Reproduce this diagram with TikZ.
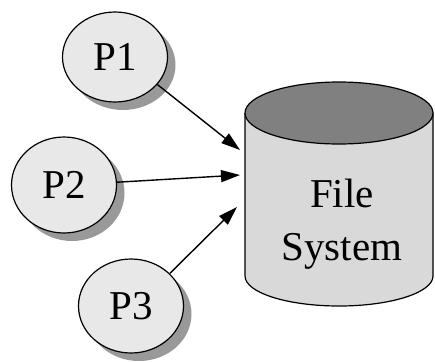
\documentclass[tikz,border=0pt]{standalone}
\usepackage{fontspec}
\setmainfont{Liberation Serif}
\usetikzlibrary{shapes.geometric,shadows,arrows.meta}
\definecolor{procfill}{HTML}{E8E8E8}
\definecolor{shadowgray}{HTML}{999999}
\definecolor{bodyfill}{HTML}{D9D9D9}
\definecolor{topfill}{HTML}{808080}
\tikzset{
  proc/.style={ellipse, draw=black, line width=1.2pt, fill=procfill, inner sep=0pt,
    minimum width=105pt, minimum height=92pt, font=\fontsize{41}{48}\selectfont,
    drop shadow={shadow xshift=8pt, shadow yshift=-8pt, fill=shadowgray, opacity=1}},
  conn/.style={line width=1.4pt, -{Triangle[length=19pt,width=12pt]}},
  cyl/.style={draw=black, line width=1.2pt}
}
\begin{document}
\begin{tikzpicture}[x=1pt,y=-1pt]
\useasboundingbox (0,0) rectangle (435,362);
% cylinder
\fill[bodyfill] (245,113) -- (245,276) arc[start angle=180,end angle=360,x radius=94pt,y radius=30pt] -- (433,113) -- cycle;
\draw[cyl] (245,113) -- (245,276) arc[start angle=180,end angle=360,x radius=94pt,y radius=30pt] -- (433,113);
\draw[cyl, fill=topfill] (339,113) ellipse[x radius=94pt, y radius=31pt];
\node[font=\fontsize{41}{53}\selectfont, align=center] (fs) at (342,224) {File\\System};
% processes
\node[proc, minimum height=90pt] (p1) at (115,57) {P1};
\node[proc, minimum height=96pt] (p2) at (64,185) {P2};
\node[proc, minimum height=94pt] (p3) at (131,306) {P3};
% arrow targets on the cylinder side
\coordinate (a1) at (240,150);
\coordinate (a2) at (240,175);
\coordinate (a3) at (237,207);
\draw[conn] (p1.-33) -- (a1);
\draw[conn] (p2.3) -- (a2);
\draw[conn] (p3.40) -- (a3);
\end{tikzpicture}
\end{document}
